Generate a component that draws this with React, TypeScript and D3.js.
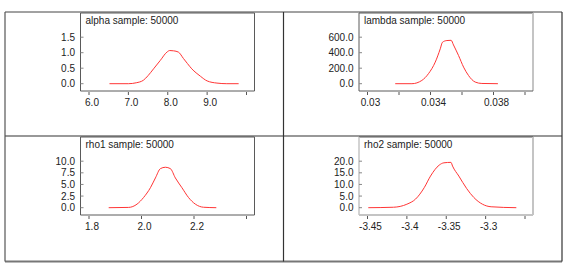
import React from "react";
import * as d3 from "d3";

// ---- data ----
const alphaX = [6.52, 7.0, 7.2, 7.38, 7.5, 7.64, 7.81, 7.98, 8.05, 8.15, 8.27, 8.4, 8.5, 8.61, 8.72, 8.83, 9.0, 9.25, 9.5, 9.8];
const alphaY = [0, 0.0, 0.03, 0.11, 0.26, 0.48, 0.75, 1.02, 1.07, 1.06, 1.02, 0.81, 0.65, 0.48, 0.35, 0.24, 0.09, 0.02, 0.0, 0];

const lambdaX = [0.03176, 0.03282, 0.03345, 0.03387, 0.0343, 0.03462, 0.03476, 0.03504, 0.03531, 0.03546, 0.03578, 0.0361, 0.03641, 0.03684, 0.03726, 0.03828];
const lambdaY = [0, 0, 42, 129, 278, 450, 535, 557, 560, 500, 364, 214, 107, 21, 3, 0];

const rho1X = [1.875, 1.951, 1.983, 2.008, 2.034, 2.053, 2.072, 2.091, 2.11, 2.129, 2.154, 2.179, 2.205, 2.236, 2.285];
const rho1Y = [0, 0.06, 0.77, 2.2, 4.3, 6.4, 8.4, 8.7, 8.4, 6.4, 4.3, 2.2, 0.77, 0.1, 0];

const rho2X = [-3.449, -3.417, -3.4, -3.389, -3.378, -3.37, -3.359, -3.353, -3.344, -3.342, -3.334, -3.324, -3.315, -3.304, -3.293, -3.261];
const rho2Y = [0, 0.2, 1.5, 3.7, 8.6, 13.6, 18.3, 19.3, 19.5, 17.9, 13.6, 8.2, 4.4, 1.5, 0.4, 0];

const titles = ["alpha sample: 50000", "lambda sample: 50000", "rho1 sample: 50000", "rho2 sample: 50000"];

const alphaXTicks = [6.0, 7.0, 8.0, 9.0, 10.0];
const alphaXLabels = ["6.0", "7.0", "8.0", "9.0", ""];
const alphaYTicks = [0, 0.5, 1.0, 1.5];
const alphaYLabels = ["0.0", "0.5", "1.0", "1.5"];

const lambdaXTicks = [0.03, 0.032, 0.034, 0.036, 0.038, 0.04];
const lambdaXLabels = ["0.03", "", "0.034", "", "0.038", ""];
const lambdaYTicks = [0, 200, 400, 600];
const lambdaYLabels = ["0.0", "200.0", "400.0", "600.0"];

const rho1XTicks = [1.8, 2.0, 2.2, 2.4];
const rho1XLabels = ["1.8", "2.0", "2.2", ""];
const rho1YTicks = [0, 2.5, 5.0, 7.5, 10.0];
const rho1YLabels = ["0.0", "2.5", "5.0", "7.5", "10.0"];

const rho2XTicks = [-3.45, -3.4, -3.35, -3.3, -3.25];
const rho2XLabels = ["-3.45", "-3.4", "-3.35", "-3.3", ""];
const rho2YTicks = [0, 5, 10, 15, 20];
const rho2YLabels = ["0.0", "5.0", "10.0", "15.0", "20.0"];

const panels = [
  { title: titles[0], xs: alphaX, ys: alphaY, xt: alphaXTicks, xl: alphaXLabels, yt: alphaYTicks, yl: alphaYLabels, col: 0, row: 0 },
  { title: titles[1], xs: lambdaX, ys: lambdaY, xt: lambdaXTicks, xl: lambdaXLabels, yt: lambdaYTicks, yl: lambdaYLabels, col: 1, row: 0 },
  { title: titles[2], xs: rho1X, ys: rho1Y, xt: rho1XTicks, xl: rho1XLabels, yt: rho1YTicks, yl: rho1YLabels, col: 0, row: 1 },
  { title: titles[3], xs: rho2X, ys: rho2Y, xt: rho2XTicks, xl: rho2XLabels, yt: rho2YTicks, yl: rho2YLabels, col: 1, row: 1 },
];

const W = 569, H = 268;
const FONT = "'Liberation Sans', Arial, sans-serif";
const colX = [5, 283.5, 562];
const rowY = [12, 136, 261.5];
const BOX_W = 174, BOX_H = 78;

function Panel({ p }: { p: any }) {
  const left = colX[p.col] + 75.5;
  const top = rowY[p.row] + 1;
  const right = left + BOX_W;
  const bottom = top + BOX_H;
  const x = d3.scaleLinear().domain([p.xt[0], p.xt[p.xt.length - 1]]).range([left + 8.5, left + 166]);
  const y = d3.scaleLinear().domain([0, p.yt[p.yt.length - 1]]).range([bottom - 7.3, top + 24.2]);
  const pts: [number, number][] = p.xs.map((v: number, i: number) => [v, p.ys[i]]);
  const line = d3.line<[number, number]>().x(d => x(d[0])).y(d => y(d[1])).curve(d3.curveMonotoneX);
  const rightCol = p.col === 1;
  const light = "#c4c4c4";
  const dark = "#5a5a5a";
  return (
    <g>
      <rect x={left} y={top} width={BOX_W} height={BOX_H} fill="#fff" stroke="none" />
      <line x1={left} y1={top} x2={right} y2={top} stroke={dark} strokeWidth={1} />
      <line x1={left} y1={top} x2={left} y2={bottom} stroke={p.row === 1 && rightCol ? light : dark} strokeWidth={p.row === 1 && rightCol ? 1.5 : 1} />
      <line x1={right} y1={top} x2={right} y2={bottom} stroke={rightCol ? light : dark} strokeWidth={rightCol ? 2 : 1} />
      <line x1={left} y1={bottom} x2={right} y2={bottom} stroke={p.row === 1 && rightCol ? light : dark} strokeWidth={p.row === 1 && rightCol ? 2 : 1} />
      <text x={left + 5} y={top + 10.5} fontSize={10} fontFamily={FONT} fill="#222">{p.title}</text>
      {p.yt.map((t: number, i: number) => (
        <g key={"y" + i}>
          <line x1={left} x2={left + 3} y1={y(t)} y2={y(t)} stroke="#888" strokeWidth={1} />
          <text x={left - 5.5} y={y(t)} dy="0.35em" textAnchor="end" fontSize={10} fontFamily={FONT} fill="#222">{p.yl[i]}</text>
        </g>
      ))}
      {p.xt.map((t: number, i: number) => (
        <g key={"x" + i}>
          <line x1={x(t)} x2={x(t)} y1={bottom + 1} y2={bottom + 4} stroke="#555" strokeWidth={1} />
          <text x={x(t) + 3} y={bottom + 14.5} textAnchor="middle" fontSize={10} fontFamily={FONT} fill="#222">{p.xl[i]}</text>
        </g>
      ))}
      <path d={line(pts) || ""} fill="none" stroke="#ff3535" strokeWidth={1} />
    </g>
  );
}

export default function App() {
  return (
    <svg width={W} height={H} style={{ position: "fixed", left: 0, top: 0, background: "#fff" }}>
      <rect x={0} y={0} width={W} height={H} fill="#fff" />
      {panels.map((p, i) => <Panel key={i} p={p} />)}
      <line x1={colX[0]} y1={rowY[0]} x2={colX[2]} y2={rowY[0]} stroke="#444" strokeWidth={1} />
      <line x1={colX[0]} y1={rowY[1]} x2={colX[2]} y2={rowY[1]} stroke="#333" strokeWidth={1.2} />
      <line x1={colX[0]} y1={rowY[2]} x2={colX[2]} y2={rowY[2]} stroke="#777" strokeWidth={2} />
      <line x1={colX[0]} y1={rowY[0]} x2={colX[0]} y2={rowY[2]} stroke="#555" strokeWidth={1.2} />
      <line x1={colX[1]} y1={rowY[0]} x2={colX[1]} y2={rowY[2]} stroke="#333" strokeWidth={1.2} />
      <line x1={colX[2]} y1={rowY[0]} x2={colX[2]} y2={rowY[2]} stroke="#333" strokeWidth={1.2} />
    </svg>
  );
}
